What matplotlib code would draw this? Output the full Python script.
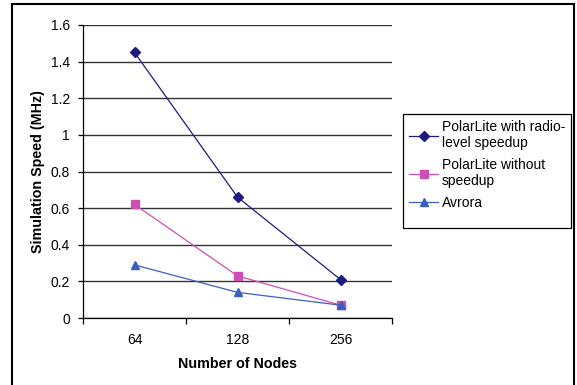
import matplotlib
matplotlib.use('Agg')
import matplotlib.pyplot as plt
from matplotlib.patches import Rectangle

plt.rcParams['font.family'] = ['Liberation Sans', 'DejaVu Sans']

nodes = ['64', '128', '256']
radioSpeedup = [1.45, 0.66, 0.21]
noSpeedup = [0.62, 0.23, 0.07]
avrora = [0.29, 0.14, 0.07]
seriesNames = ['PolarLite with radio-\nlevel speedup', 'PolarLite without\nspeedup', 'Avrora']
yTicks = [0, 0.2, 0.4, 0.6, 0.8, 1, 1.2, 1.4, 1.6]

def main():
    fig = plt.figure(figsize=(5.77, 3.85), dpi=100)
    # outer chart frame (bottom edge is cut off in the original)
    fig.patches.append(Rectangle((12 / 577, -0.02), 562 / 577, 1 - 4 / 385 + 0.02,
                                 transform=fig.transFigure, fill=False,
                                 edgecolor='black', linewidth=1.5))

    ax = fig.add_axes([83 / 577, 1 - 318 / 385, 309 / 577, 293 / 385])
    x = range(len(nodes))
    ax.plot(x, radioSpeedup, color='#1c1c80', marker='D', markersize=5, linewidth=0.9,
            label=seriesNames[0])
    ax.plot(x, noSpeedup, color='#cc4fb3', marker='s', markersize=5.5, linewidth=0.9,
            label=seriesNames[1])
    ax.plot(x, avrora, color='#3a5fc0', marker='^', markersize=6, linewidth=0.9,
            label=seriesNames[2])

    ax.set_xlim(-0.5, 2.5)
    ax.set_ylim(0, 1.6)
    ax.set_yticks(yTicks)
    ax.set_yticklabels(['0', '0.2', '0.4', '0.6', '0.8', '1', '1.2', '1.4', '1.6'])
    ax.set_xticks(list(x))
    ax.set_xticklabels(nodes)
    ax.set_xticks([-0.5, 0.5, 1.5, 2.5], minor=True)
    ax.tick_params(axis='x', which='major', length=0, pad=11, labelsize=10)
    ax.tick_params(axis='x', which='minor', length=4, direction='out', width=0.9)
    ax.tick_params(axis='y', length=3.5, direction='out', width=0.9, labelsize=10, pad=6)

    ax.yaxis.grid(True, color='#333333', linewidth=1)
    ax.set_axisbelow(True)
    for side in ['top', 'right']:
        ax.spines[side].set_visible(False)
    ax.spines['left'].set_linewidth(0.9)
    ax.spines['bottom'].set_linewidth(0.9)

    ax.set_xlabel('Number of Nodes', fontsize=10.3, fontweight='bold', labelpad=7)
    ax.set_ylabel('Simulation Speed (MHz)', fontsize=10.3, fontweight='bold', labelpad=4)

    # legend box drawn by hand: Excel leaves blank space under the last entry
    fig.patches.append(Rectangle((403 / 577, 1 - 228 / 385), 168 / 577, 114 / 385,
                                 transform=fig.transFigure, fill=False,
                                 edgecolor='black', linewidth=0.9))
    fig.legend(loc='upper left', bbox_to_anchor=(403 / 577, 1 - 114 / 385),
               fontsize=10, frameon=False, handlelength=2.1,
               borderpad=0.45, labelspacing=0.55, handletextpad=0.25,
               borderaxespad=0)

    fig.savefig('out.png', dpi=100)

if __name__ == '__main__':
    main()
